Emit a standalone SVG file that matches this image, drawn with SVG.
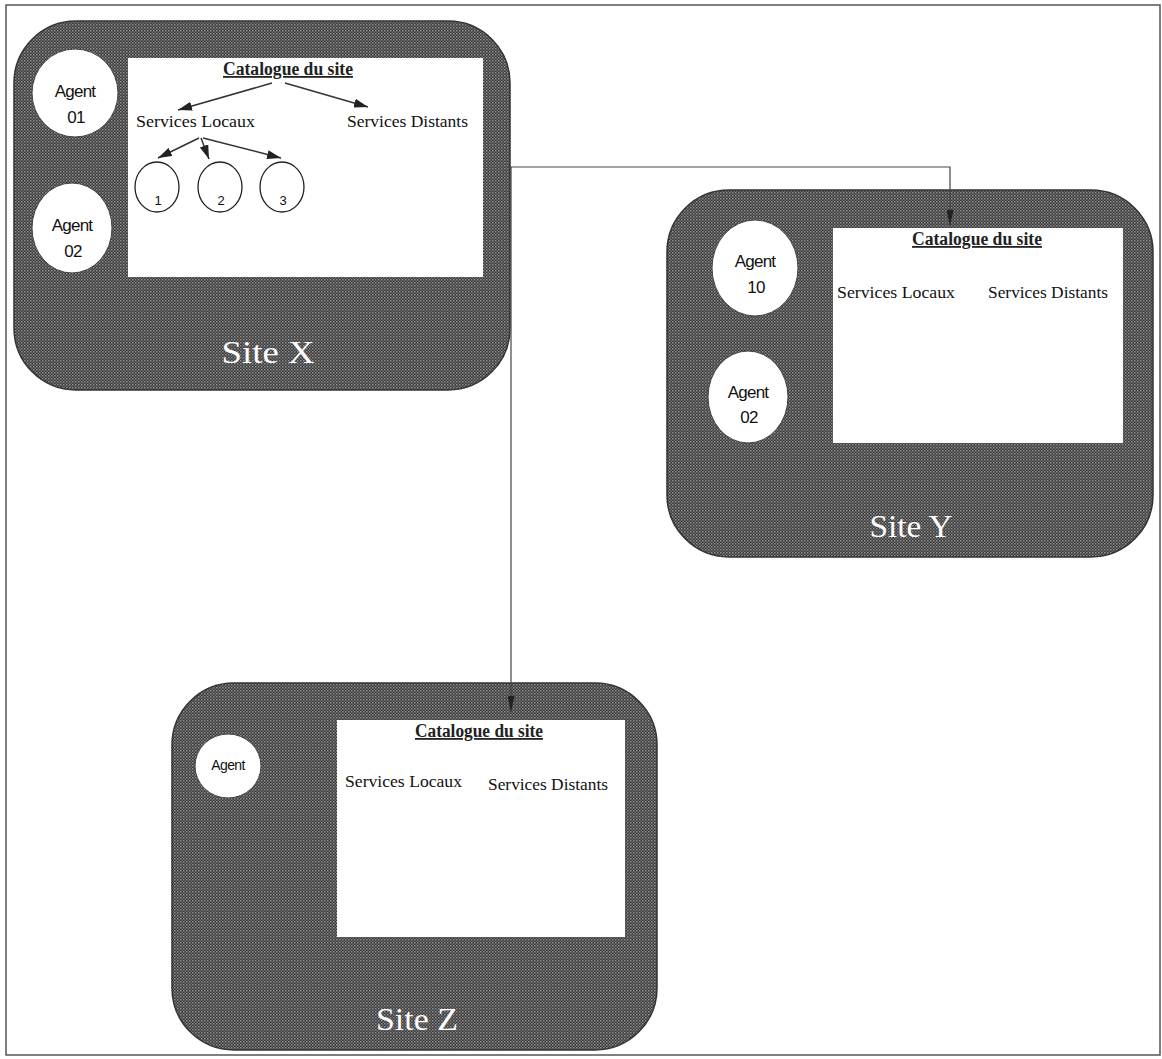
<svg xmlns="http://www.w3.org/2000/svg" width="1162" height="1059" viewBox="0 0 1162 1059">
<defs>
<pattern id="dots" width="3" height="3" patternUnits="userSpaceOnUse">
<rect width="3" height="3" fill="#363636"/>
<rect x="0" y="0" width="1.5" height="1.5" fill="#959595"/>
<rect x="1.5" y="1.5" width="1.5" height="1.5" fill="#707070"/>
</pattern>
<marker id="ah" viewBox="0 0 14 9" refX="14" refY="4.5" markerWidth="14" markerHeight="9" markerUnits="userSpaceOnUse" orient="auto">
<path d="M0,0 L14,4.5 L0,9 Z" fill="#222"/>
</marker>
<marker id="ahv" viewBox="0 0 16 7" refX="16" refY="3.5" markerWidth="16" markerHeight="7" markerUnits="userSpaceOnUse" orient="auto">
<path d="M0,0 L16,3.5 L0,7 Z" fill="#222"/>
</marker>
</defs>
<style>
.site{fill:url(#dots);stroke:#333;stroke-width:1.5}
.cat{fill:#fff}
.agent{fill:#fff;stroke:#444;stroke-width:1}
.at{font-family:"Liberation Sans",Arial,sans-serif;font-size:17px;fill:#111;text-anchor:middle;letter-spacing:-0.8px}
.ct{font-family:"Liberation Serif","Times New Roman",serif;font-size:18px;font-weight:bold;fill:#222;text-anchor:middle;text-decoration:underline}
.st{font-family:"Liberation Serif","Times New Roman",serif;font-size:17px;fill:#111}
.lab{font-family:"Liberation Serif","Times New Roman",serif;font-size:31px;fill:#fff;text-anchor:middle}
.svc{fill:none;stroke:#222;stroke-width:1.3}
.nt{font-family:"Liberation Sans",Arial,sans-serif;font-size:13px;fill:#111;text-anchor:middle}
.arr{stroke:#333;stroke-width:1.5;fill:none}
.conn{stroke:#444;stroke-width:1.2;fill:none}
</style>
<rect x="0" y="0" width="1162" height="1059" fill="#fff"/>
<rect x="6" y="5" width="1154" height="1050" fill="none" stroke="#555" stroke-width="1.5"/>

<g id="siteX">
<rect class="site" x="14" y="21" width="496" height="369" rx="62" ry="62"/>
<rect class="cat" x="128" y="58" width="355" height="219"/>
<ellipse class="agent" cx="75" cy="93" rx="43" ry="44"/>
<text class="at" x="75" y="97">Agent</text>
<text class="at" x="76" y="123">01</text>
<ellipse class="agent" cx="72" cy="228" rx="40" ry="45"/>
<text class="at" x="72" y="231">Agent</text>
<text class="at" x="73" y="257">02</text>
<text class="ct" x="288" y="75" textLength="130" lengthAdjust="spacingAndGlyphs">Catalogue du site</text>
<text class="st" x="136" y="127" textLength="119" lengthAdjust="spacingAndGlyphs">Services Locaux</text>
<text class="st" x="347" y="127" textLength="121" lengthAdjust="spacingAndGlyphs">Services Distants</text>
<line class="arr" x1="272" y1="83" x2="178" y2="110" marker-end="url(#ah)"/>
<line class="arr" x1="285" y1="83" x2="368" y2="107" marker-end="url(#ah)"/>
<line class="arr" x1="199" y1="138" x2="158" y2="158" marker-end="url(#ah)"/>
<line class="arr" x1="201" y1="138" x2="209" y2="159" marker-end="url(#ah)"/>
<line class="arr" x1="203" y1="138" x2="281" y2="158" marker-end="url(#ah)"/>
<ellipse class="svc" cx="157" cy="187" rx="22" ry="25"/>
<text class="nt" x="158" y="205">1</text>
<ellipse class="svc" cx="220" cy="187" rx="22" ry="25"/>
<text class="nt" x="221" y="205">2</text>
<ellipse class="svc" cx="282" cy="187" rx="22" ry="25"/>
<text class="nt" x="283" y="205">3</text>
<text class="lab" x="268" y="363" textLength="93" lengthAdjust="spacingAndGlyphs">Site X</text>
</g>

<g id="siteY">
<rect class="site" x="667" y="190" width="486" height="367" rx="62" ry="62"/>
<rect class="cat" x="833" y="228" width="290" height="215"/>
<ellipse class="agent" cx="755" cy="268" rx="43" ry="48"/>
<text class="at" x="755" y="267">Agent</text>
<text class="at" x="756" y="293">10</text>
<ellipse class="agent" cx="748" cy="397" rx="40" ry="46"/>
<text class="at" x="748" y="398">Agent</text>
<text class="at" x="749" y="423">02</text>
<text class="ct" x="977" y="245" textLength="130" lengthAdjust="spacingAndGlyphs">Catalogue du site</text>
<text class="st" x="837" y="298" textLength="118" lengthAdjust="spacingAndGlyphs">Services Locaux</text>
<text class="st" x="988" y="298" textLength="120" lengthAdjust="spacingAndGlyphs">Services Distants</text>
<text class="lab" x="911" y="537" textLength="83" lengthAdjust="spacingAndGlyphs">Site Y</text>
</g>

<g id="siteZ">
<rect class="site" x="172" y="683" width="485" height="367" rx="62" ry="62"/>
<rect class="cat" x="337" y="720" width="288" height="217"/>
<ellipse class="agent" cx="228" cy="766" rx="33" ry="32"/>
<text class="at" x="228" y="770" style="font-size:14px;letter-spacing:-0.6px">Agent</text>
<text class="ct" x="479" y="737" textLength="128" lengthAdjust="spacingAndGlyphs">Catalogue du site</text>
<text class="st" x="345" y="787" textLength="117" lengthAdjust="spacingAndGlyphs">Services Locaux</text>
<text class="st" x="488" y="790" textLength="120" lengthAdjust="spacingAndGlyphs">Services Distants</text>
<text class="lab" x="417" y="1030" textLength="82" lengthAdjust="spacingAndGlyphs">Site Z</text>
</g>

<g id="connectors">
<polyline class="conn" points="507,167 950,167 950,226" marker-end="url(#ahv)"/>
<polyline class="conn" points="511,167 511,712" marker-end="url(#ahv)"/>
</g>
</svg>
